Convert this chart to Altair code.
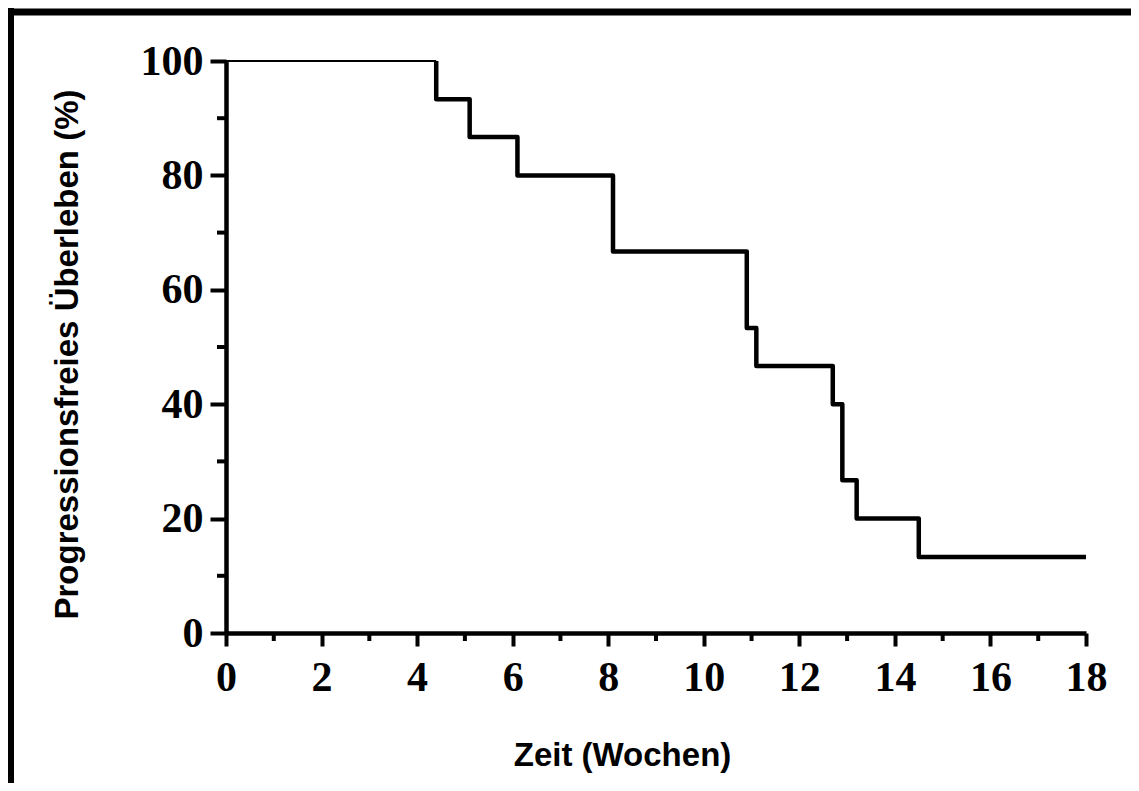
import altair as alt
import pandas as pd

# Kaplan-Meier data
times = [0, 4.4, 5.1, 6.1, 8.1, 10.9, 11.1, 12.7, 12.9, 13.2, 14.5, 18]
survival = [100, 93.3, 86.7, 80, 66.7, 53.3, 46.7, 40, 26.7, 20, 13.3, 13.3]
x_major = [0, 2, 4, 6, 8, 10, 12, 14, 16, 18]
x_minor = [1, 3, 5, 7, 9, 11, 13, 15, 17]
y_major = [0, 20, 40, 60, 80, 100]
y_minor = [10, 30, 50, 70, 90]

# thin initial plateau
thin = pd.DataFrame({"t": times[:2], "s": [survival[0], survival[0]]})
# thick step curve from the first event onwards (corner points)
pts_t, pts_s = [], []
for i in range(1, len(times)):
    pts_t += [times[i], times[i]]
    pts_s += [survival[i - 1], survival[i]]
thick = pd.DataFrame({"t": pts_t, "s": pts_s, "o": range(len(pts_t))})

W, H = 860, 572
xs = alt.Scale(domain=[0, 18], nice=False, zero=False)
ys = alt.Scale(domain=[0, 100], nice=False)

xaxis = alt.Axis(values=x_major, tickSize=13, tickWidth=4, tickColor="black",
                 domainWidth=4.5, domainColor="black", grid=False,
                 labelFont="Liberation Serif", labelFontWeight="bold", labelFontSize=42,
                 labelColor="black", labelPadding=11, labelFlush=False, labelOverlap=False,
                 title="Zeit (Wochen)", titleFont="Liberation Sans", titleFontWeight="bold",
                 titleFontSize=33, titleColor="black", titleX=396, titleY=132,
                 titleAlign="center", titleBaseline="alphabetic")
yaxis = alt.Axis(values=y_major, tickSize=16, tickWidth=4, tickColor="black",
                 domainWidth=4.5, domainColor="black", grid=False,
                 labelFont="Liberation Serif", labelFontWeight="bold", labelFontSize=42,
                 labelColor="black", labelPadding=7, labelFlush=False, labelOverlap=False,
                 labelBaseline="middle",
                 title="Progressionsfreies Überleben (%)", titleFont="Liberation Sans",
                 titleFontWeight="bold", titleFontSize=33, titleColor="black",
                 titleX=-149, titleY=293, titleAngle=270, titleAlign="center",
                 titleBaseline="alphabetic")

thin_line = alt.Chart(thin).mark_line(color="black", strokeWidth=2).encode(
    x=alt.X("t:Q", scale=xs, axis=xaxis),
    y=alt.Y("s:Q", scale=ys, axis=yaxis),
)
thick_line = alt.Chart(thick).mark_line(color="black", strokeWidth=4.5, strokeJoin="round").encode(
    x=alt.X("t:Q", scale=xs),
    y=alt.Y("s:Q", scale=ys),
    order="o:O",
)
ymin = alt.Chart(pd.DataFrame({"v": y_minor})).mark_rule(color="black", strokeWidth=4).encode(
    y=alt.Y("v:Q", scale=ys), x=alt.value(-9), x2=alt.value(0)
)
xmin = alt.Chart(pd.DataFrame({"v": x_minor})).mark_rule(color="black", strokeWidth=4).encode(
    x=alt.X("v:Q", scale=xs), y=alt.value(H), y2=alt.value(H + 8)
)
frame_top = alt.Chart(pd.DataFrame({"a": [0]})).mark_rule(color="black", strokeWidth=7).encode(
    x=alt.value(-218), x2=alt.value(910), y=alt.value(-49)
)
frame_left = alt.Chart(pd.DataFrame({"a": [0]})).mark_rule(color="black", strokeWidth=6).encode(
    x=alt.value(-215), y=alt.value(-53), y2=alt.value(730)
)

chart = alt.layer(thin_line, thick_line, ymin, xmin, frame_top, frame_left).properties(
    width=W, height=H,
    autosize=alt.AutoSizeParams(type="none"),
    padding={"left": 218, "top": 53, "right": 45, "bottom": 150},
    background="white",
).configure_view(stroke=None)

chart.save("out.html", embed_options={"renderer": "svg", "actions": False})
